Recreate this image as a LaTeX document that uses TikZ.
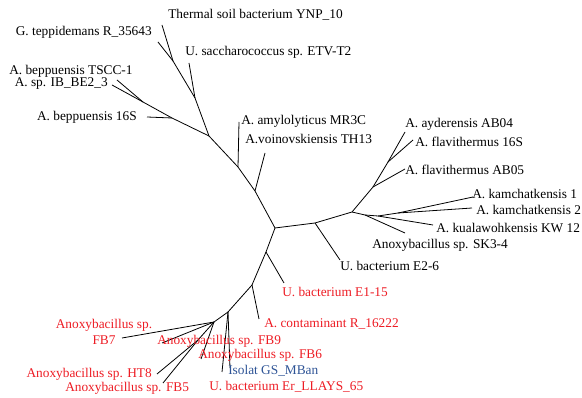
\documentclass[tikz,border=0pt]{standalone}
\usepackage{fontspec}
\setmainfont{Liberation Serif}
\definecolor{lred}{RGB}{237,28,36}
\definecolor{lblue}{RGB}{46,84,150}
\begin{document}
\begin{tikzpicture}[x=0.75pt,y=-0.75pt,
  br/.style={line width=0.6pt,black},
  lab/.style={inner sep=0pt,font=\fontsize{10}{11}\selectfont},
  rlab/.style={lab,text=lred},
  blab/.style={lab,text=lblue}]
\useasboundingbox (0,0) rectangle (582,398);
% internal nodes
\coordinate (C) at (275,228);
\coordinate (n1) at (255,191);
\coordinate (n2) at (238,167);
\coordinate (n3) at (209,136);
\coordinate (n4) at (195,98);
\coordinate (n5) at (173,61);
\coordinate (n6) at (172,118);
\coordinate (n7) at (143,102);
\coordinate (r1) at (315,223);
\coordinate (r2) at (352,212);
\coordinate (r3) at (373,187);
\coordinate (r4) at (388,162);
\coordinate (r5) at (365,215);
\coordinate (r6) at (378,216);
\coordinate (r7) at (398,213);
\coordinate (d1) at (266,252);
\coordinate (d2) at (252,285);
\coordinate (d3) at (228,312);
\coordinate (d4) at (214,322);
\coordinate (d5) at (198,340);
% leaves
\coordinate (tepp) at (158,42);
\coordinate (therm) at (162,25);
\coordinate (sacch) at (189,63);
\coordinate (amylo) at (239,122);
\coordinate (voino) at (265,153);
\coordinate (b16) at (147,117);
\coordinate (tscc) at (117,80);
\coordinate (ibbe) at (112,85);
\coordinate (e26) at (340,260);
\coordinate (ab05) at (405,169);
\coordinate (ayd) at (405,132);
\coordinate (fl16) at (413,140);
\coordinate (sk) at (405,233);
\coordinate (kual) at (433,225);
\coordinate (kam1) at (473,197);
\coordinate (kam2) at (472,208);
\coordinate (e115) at (284,283);
\coordinate (cont) at (259,319);
\coordinate (isol) at (230,368);
\coordinate (er) at (222,372);
\coordinate (fb7) at (122,338);
\coordinate (fb9) at (162,343);
\coordinate (fb6) at (201,359);
\coordinate (ht8) at (157,374);
\coordinate (fb5) at (163,383);
% branches
\draw[br] (C) -- (n1) -- (n2) -- (n3) -- (n4) -- (n5) -- (tepp);
\draw[br] (n5) -- (therm);
\draw[br] (n4) -- (sacch);
\draw[br] (n2) -- (amylo);
\draw[br] (n1) -- (voino);
\draw[br] (n3) -- (n6) -- (b16);
\draw[br] (n6) -- (n7) -- (tscc);
\draw[br] (n7) -- (ibbe);
\draw[br] (C) -- (r1) -- (e26);
\draw[br] (r1) -- (r2) -- (r3) -- (ab05);
\draw[br] (r3) -- (r4) -- (ayd);
\draw[br] (r4) -- (fl16);
\draw[br] (r2) -- (r5) -- (sk);
\draw[br] (r5) -- (r6) -- (kual);
\draw[br] (r6) -- (r7) -- (kam1);
\draw[br] (r7) -- (kam2);
\draw[br] (C) -- (d1) -- (e115);
\draw[br] (d1) -- (d2) -- (cont);
\draw[br] (d2) -- (d3) -- (isol);
\draw[br] (d3) -- (er);
\draw[br] (d3) -- (d4) -- (fb7);
\draw[br] (d4) -- (fb9);
\draw[br] (d4) -- (fb6);
\draw[br] (d4) -- (d5) -- (ht8);
\draw[br] (d5) -- (fb5);
% labels
\node[lab,anchor=west] (Ltherm) at (168,15) {Thermal soil bacterium YNP\_10};
\node[lab,anchor=east] (Ltepp) at (152,32) {G. teppidemans R\_35643};
\node[lab,anchor=west] (Lsacch) at (185,52) {U. saccharococcus sp. ETV-T2};
\node[lab,anchor=west] (Ltscc) at (9,71) {A. beppuensis TSCC-1};
\node[lab,anchor=east] (Libbe) at (108,84) {A. sp. IB\_BE2\_3};
\node[lab,anchor=east] (Lb16) at (137,117) {A. beppuensis 16S};
\node[lab,anchor=west] (Lamylo) at (241,121) {A. amylolyticus MR3C};
\node[lab,anchor=west] (Lvoino) at (245,139) {A.voinovskiensis TH13};
\node[lab,anchor=west] (Layd) at (405,124) {A. ayderensis AB04};
\node[lab,anchor=west] (Lfl16) at (415,142) {A. flavithermus 16S};
\node[lab,anchor=west] (Lab05) at (405,170) {A. flavithermus AB05};
\node[lab,anchor=west] (Lkam1) at (472,194) {A. kamchatkensis 1};
\node[lab,anchor=west] (Lkam2) at (476,210) {A. kamchatkensis 2};
\node[lab,anchor=west] (Lkual) at (436,228) {A. kualawohkensis KW 12};
\node[lab,anchor=west] (Lsk) at (372,245) {Anoxybacillus sp. SK3-4};
\node[lab,anchor=west] (Le26) at (340,266) {U. bacterium E2-6};
\node[rlab,anchor=west] (Le115) at (282,292) {U. bacterium E1-15};
\node[rlab,anchor=west] (Lcont) at (264,324) {A. contaminant R\_16222};
\node[rlab,align=center,font=\fontsize{10}{11.5}\selectfont] (Lfb7) at (104,332) {Anoxybacillus sp.\\FB7};
\node[rlab,anchor=west] (Lfb9) at (157,341) {Anoxybacillus sp. FB9};
\node[rlab,anchor=west] (Lfb6) at (198,355) {Anoxybacillus sp. FB6};
\node[rlab,anchor=east] (Lht8) at (152,374) {Anoxybacillus sp. HT8};
\node[rlab,anchor=west] (Lfb5) at (65,388) {Anoxybacillus sp. FB5};
\node[blab,anchor=west] (Lisol) at (228,371) {Isolat GS\_MBan};
\node[rlab,anchor=west] (Ler) at (209,387) {U. bacterium Er\_LLAYS\_65};
\end{tikzpicture}
\end{document}
